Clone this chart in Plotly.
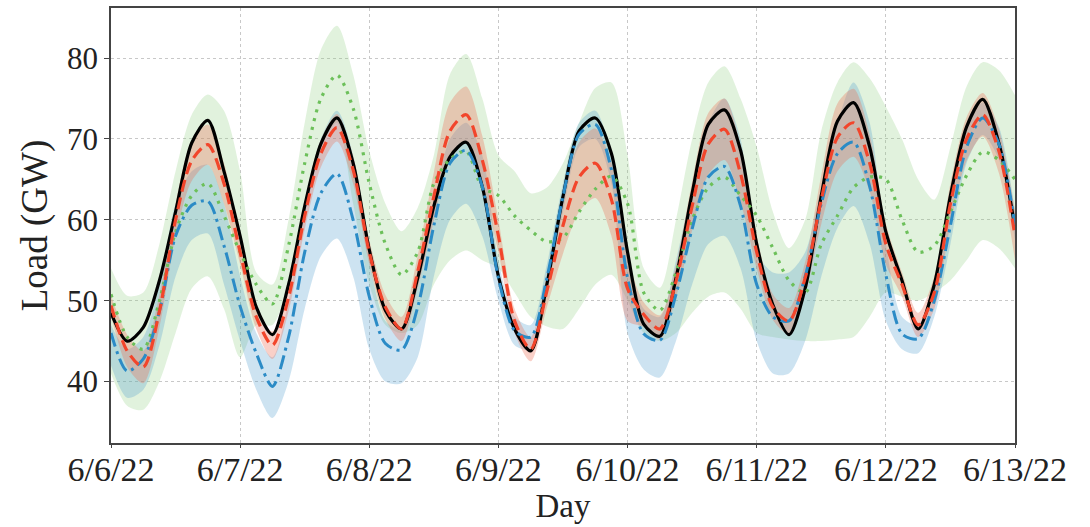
import pandas as pd
import plotly.graph_objects as go

# 3-hourly samples from 6/6/22 00:00 to 6/13/22 00:00
times = pd.date_range("2022-06-06", periods=57, freq="3h")
day_ticks = pd.date_range("2022-06-06", periods=8, freq="D")
day_labels = ["6/6/22", "6/7/22", "6/8/22", "6/9/22", "6/10/22", "6/11/22", "6/12/22", "6/13/22"]
y_ticks = [40, 50, 60, 70, 80]

actual = [
    48.5, 45.0, 46.7, 52.5, 61.0, 69.5, 72.3, 66.0,
    58.0, 49.2, 45.8, 52.0, 61.7, 69.4, 72.6, 67.0,
    56.3, 48.8, 46.5, 52.8, 61.7, 67.8, 69.6, 64.1,
    53.0, 46.5, 43.8, 52.0, 62.9, 71.0, 72.6, 68.2,
    56.0, 47.1, 45.6, 52.8, 63.3, 71.8, 73.6, 68.6,
    57.0, 49.5, 45.8, 51.5, 63.0, 72.2, 74.5, 69.0,
    58.5, 52.5, 46.5, 52.0, 63.0, 71.5, 74.9, 69.5,
    59.0]

red = [
    49.4, 43.8, 41.8, 48.7, 60.0, 67.3, 69.3, 64.5,
    56.0, 48.0, 44.5, 50.4, 60.5, 68.2, 71.4, 66.2,
    56.0, 49.2, 46.5, 53.6, 62.9, 71.0, 73.0, 67.4,
    58.0, 47.5, 44.0, 51.2, 59.3, 65.3, 67.0, 62.5,
    51.5, 48.3, 46.5, 52.4, 61.7, 69.4, 71.2, 65.7,
    56.0, 49.2, 47.5, 52.8, 62.5, 70.2, 72.0, 67.0,
    57.0, 52.0, 47.0, 51.0, 62.0, 70.0, 73.0, 68.5,
    58.0]
red_hi = [
    50.6, 45.8, 43.8, 50.7, 62.0, 69.8, 71.8, 67.0,
    57.5, 49.5, 46.2, 52.1, 62.2, 69.9, 73.1, 67.9,
    57.5, 50.7, 48.0, 55.6, 65.9, 74.5, 76.5, 70.4,
    60.0, 49.0, 45.5, 53.2, 62.8, 69.6, 71.3, 67.0,
    55.5, 49.8, 48.2, 54.4, 64.7, 73.2, 75.0, 69.2,
    58.0, 50.8, 49.1, 54.8, 65.5, 74.4, 76.2, 70.5,
    59.5, 53.5, 48.5, 53.0, 64.5, 72.7, 75.7, 71.2,
    61.0]
red_lo = [
    48.2, 41.8, 39.8, 46.7, 58.0, 64.8, 66.8, 62.0,
    54.5, 46.5, 42.8, 48.7, 58.8, 66.5, 69.7, 64.5,
    54.5, 47.7, 45.0, 51.6, 59.9, 67.5, 69.5, 64.4,
    56.0, 46.0, 42.5, 49.2, 55.8, 61.0, 62.7, 58.0,
    47.5, 46.8, 45.2, 50.4, 58.7, 65.6, 67.4, 62.2,
    54.0, 47.6, 45.9, 50.8, 59.5, 66.0, 67.8, 63.5,
    54.5, 50.5, 45.5, 49.0, 59.5, 67.3, 70.3, 65.8,
    55.0]

blue = [
    46.0, 41.3, 42.8, 48.7, 58.0, 61.8, 62.3, 56.8,
    49.3, 43.5, 39.4, 45.5, 56.0, 63.3, 65.7, 60.0,
    50.5, 44.7, 43.9, 49.2, 59.3, 67.0, 68.6, 64.1,
    52.8, 46.3, 45.5, 52.8, 62.9, 70.6, 71.8, 66.2,
    52.8, 45.9, 45.1, 50.8, 58.9, 65.3, 66.6, 61.7,
    52.0, 48.0, 47.5, 53.0, 62.0, 68.2, 69.6, 64.1,
    53.2, 45.9, 45.3, 50.0, 59.3, 69.0, 72.6, 69.4,
    59.3]
blue_hi = [
    47.0, 44.0, 45.5, 52.0, 62.0, 66.0, 66.8, 62.0,
    53.0, 46.0, 43.0, 50.0, 62.0, 70.0, 73.5, 68.0,
    55.0, 47.5, 46.5, 52.0, 62.0, 70.0, 72.0, 68.0,
    55.0, 48.0, 47.0, 54.5, 64.5, 72.0, 73.5, 68.0,
    56.0, 49.0, 48.0, 55.0, 64.0, 72.0, 75.0, 70.0,
    56.0, 53.5, 53.5, 56.0, 64.0, 72.0, 77.0, 72.0,
    57.0, 48.0, 47.0, 52.0, 61.5, 71.0, 74.5, 71.5,
    61.0]
blue_lo = [
    42.0, 38.0, 39.0, 44.5, 53.0, 57.5, 58.3, 52.0,
    45.0, 39.0, 35.5, 40.0, 49.0, 55.5, 57.7, 53.0,
    44.0, 40.0, 39.8, 43.0, 53.0, 60.0, 62.0, 58.0,
    50.0, 44.5, 44.0, 51.0, 61.0, 69.0, 70.0, 64.5,
    46.0, 41.5, 40.5, 45.0, 52.0, 57.0, 58.0, 54.0,
    45.0, 41.0, 41.0, 45.0, 53.0, 59.0, 61.7, 57.0,
    47.5, 44.0, 43.5, 48.0, 57.0, 67.0, 70.5, 67.5,
    57.5]

green = [
    50.8, 45.5, 44.0, 50.0, 58.5, 63.0, 64.5, 60.5,
    56.0, 52.0, 49.6, 56.8, 67.0, 75.0, 77.9, 73.8,
    64.5, 57.0, 53.2, 56.0, 64.5, 67.5, 68.5, 64.0,
    63.0, 60.5, 58.7, 57.3, 57.8, 61.0, 63.8, 65.4,
    62.0, 51.0, 48.8, 53.5, 60.0, 64.0, 65.3, 63.0,
    60.5, 56.5, 52.5, 51.0, 57.0, 60.5, 64.0, 65.3,
    65.0, 60.0, 56.0, 56.8, 61.0, 65.5, 68.4, 67.4,
    65.0]
green_hi = [
    54.0, 50.6, 51.0, 57.0, 66.0, 73.0, 75.5, 73.5,
    66.0, 53.5, 52.0, 60.0, 72.0, 81.0, 84.0, 78.0,
    68.5, 62.0, 58.6, 61.5, 68.0, 78.0, 80.5, 75.0,
    68.0, 66.0, 63.3, 64.0, 67.0, 72.0, 76.3, 77.0,
    68.0, 54.0, 51.6, 60.0, 70.0, 77.0, 79.0, 75.0,
    69.0, 61.0, 56.5, 60.0, 71.0, 77.0, 79.5, 77.5,
    74.0, 70.0, 65.0, 62.5, 69.0, 76.5, 79.5, 78.5,
    75.4]
green_lo = [
    41.0, 37.0, 36.5, 40.0, 46.0, 51.5, 53.0, 49.0,
    43.0, 47.0, 47.0, 52.0, 61.0, 69.0, 72.0, 62.0,
    52.0, 47.0, 46.0, 47.0, 52.0, 55.0, 56.2, 55.0,
    54.0, 51.0, 48.0, 46.8, 46.5, 49.0, 52.0, 53.2,
    50.0, 46.0, 45.0, 46.0, 48.5, 50.5, 51.0, 49.0,
    46.0, 45.5, 45.2, 45.0, 45.0, 45.2, 45.5, 48.0,
    51.0, 50.5, 50.0, 51.0, 52.5, 55.0, 57.5, 56.5,
    54.0]

SM = 0.8
fig = go.Figure()


def band(lo, hi, color):
    fig.add_trace(go.Scatter(x=times, y=lo, mode="lines", line=dict(width=0, shape="spline", smoothing=SM),
                             hoverinfo="skip", showlegend=False))
    fig.add_trace(go.Scatter(x=times, y=hi, mode="lines", line=dict(width=0, shape="spline", smoothing=SM),
                             fill="tonexty", fillcolor=color, hoverinfo="skip", showlegend=False))


band(green_lo, green_hi, "rgba(140,205,125,0.26)")
band(blue_lo, blue_hi, "rgba(75,155,205,0.28)")
band(red_lo, red_hi, "rgba(235,110,85,0.32)")

fig.add_trace(go.Scatter(x=times, y=actual, mode="lines", name="Actual",
                         line=dict(color="black", width=3.2, shape="spline", smoothing=SM)))
fig.add_trace(go.Scatter(x=times, y=green, mode="lines", name="Model C",
                         line=dict(color="#6cc05a", width=3.2, dash="3px,6px", shape="spline", smoothing=SM)))
fig.add_trace(go.Scatter(x=times, y=blue, mode="lines", name="Model B",
                         line=dict(color="#2b8bc6", width=3, dash="14px,5px,3px,5px", shape="spline", smoothing=SM)))
fig.add_trace(go.Scatter(x=times, y=red, mode="lines", name="Model A",
                         line=dict(color="#f2452b", width=3.2, dash="12px,6px", shape="spline", smoothing=SM)))

font_family = "Liberation Serif, Times New Roman, serif"
fig.update_layout(
    width=1090, height=527,
    margin=dict(l=111, r=75, t=6, b=84),
    paper_bgcolor="white", plot_bgcolor="white",
    showlegend=False,
    font=dict(family=font_family, color="#222"),
)
fig.update_xaxes(
    range=[day_ticks[0], day_ticks[-1]],
    tickvals=day_ticks, ticktext=day_labels,
    tickfont=dict(size=34, family=font_family, color="#222"),
    ticklabelstandoff=-8,
    title=dict(text="Day", font=dict(size=33, family=font_family, color="#222"), standoff=7),
    showgrid=True, gridcolor="#c8c8c8", griddash="dot", gridwidth=1,
    showline=True, linecolor="#444", linewidth=1.5, mirror=True,
    ticks="outside", ticklen=3, tickcolor="#444", zeroline=False,
)
fig.update_yaxes(
    range=[32.4, 86.2],
    tickvals=y_ticks,
    tickfont=dict(size=31, family=font_family, color="#222"),
    title=dict(text="Load (GW)", font=dict(size=37, family=font_family, color="#222"), standoff=8),
    showgrid=True, gridcolor="#c8c8c8", griddash="dot", gridwidth=1,
    showline=True, linecolor="#444", linewidth=1.5, mirror=True,
    ticks="outside", ticklen=5, tickcolor="#444", zeroline=False,
)

fig.write_html("out.html")
